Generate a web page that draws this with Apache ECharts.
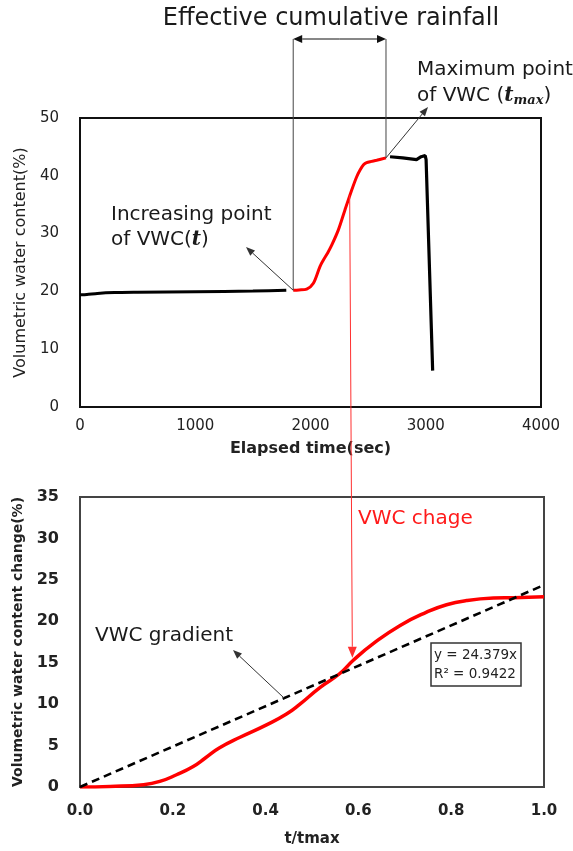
<!DOCTYPE html>
<html>
<head>
<meta charset="utf-8">
<script src="https://cdn.jsdelivr.net/npm/echarts@6/dist/echarts.min.js"></script>
<style>
  html, body { margin: 0; padding: 0; background: #fff; }
  #chart { width: 573px; height: 851px; }
</style>
</head>
<body>
<div id="chart"></div>
<script>
// ---- Upper panel: volumetric water content vs elapsed time ----
const timeBefore = [0, 60, 150, 300, 500, 1000, 1500, 1790];
const vwcBefore  = [19.4, 19.45, 19.65, 19.8, 19.85, 19.95, 20.05, 20.2];

const timeRise = [1850, 1900, 1967, 2025, 2082, 2111, 2150, 2184, 2241, 2299, 2357, 2400, 2430, 2460, 2487, 2530, 2574, 2655];
const vwcRise  = [20.2, 20.25, 20.4, 21.4, 24.3, 25.4, 26.7, 28.0, 30.6, 34.1, 37.5, 39.8, 41.0, 41.9, 42.3, 42.5, 42.7, 43.1];

const timeAfter = [2690, 2800, 2920, 2960, 2995, 3003, 3060];
const vwcAfter  = [43.3, 43.1, 42.8, 43.3, 43.5, 42.8, 6.3];

// ---- Lower panel: normalised VWC change vs t/tmax ----
const ratio     = [0, 0.065, 0.137, 0.172, 0.208, 0.244, 0.27, 0.3, 0.345, 0.402, 0.445, 0.474, 0.517, 0.56, 0.589, 0.632, 0.69, 0.747, 0.79, 0.833, 0.891, 0.934, 1.0];
const vwcChange = [0, 0.07, 0.28, 0.67, 1.48, 2.48, 3.5, 4.7, 6.0, 7.5, 8.8, 10.0, 12.0, 13.7, 15.3, 17.3, 19.5, 21.1, 22.0, 22.5, 22.8, 22.85, 22.95];

// linear fit through the origin
const gradientSlope = 24.379;
const rSquared = 0.9422;
const fitRatio = [0, 1];

// points the connecting arrow joins (upper curve -> lower curve)
const linkUpper = [2340, 36.6];
const linkLower = [0.587, 15.6];
const gradientAnchor = 0.44;

const chart = echarts.init(document.getElementById('chart'), null, { renderer: 'canvas' });

const topFont = 'DejaVu Sans';
const botFont = 'DejaVu Sans';

const option = {
  animation: false,
  backgroundColor: '#ffffff',
  grid: [
    { left: 80, top: 118, width: 461, height: 289, show: true, borderColor: '#111', borderWidth: 2, backgroundColor: 'transparent' },
    { left: 80, top: 497, width: 464, height: 290, show: true, borderColor: '#444', borderWidth: 2, backgroundColor: 'transparent' }
  ],
  xAxis: [
    {
      gridIndex: 0, type: 'value', min: 0, max: 4000, interval: 1000,
      name: 'Elapsed time(sec)', nameLocation: 'middle', nameGap: 34,
      nameTextStyle: { fontFamily: topFont, fontSize: 16, fontWeight: 'bold', color: '#222' },
      axisLine: { show: false }, axisTick: { show: false }, splitLine: { show: false },
      axisLabel: { margin: 12, fontFamily: topFont, fontSize: 15, color: '#222', formatter: v => String(v) }
    },
    {
      gridIndex: 1, type: 'value', min: 0, max: 1, interval: 0.2,
      name: 't/tmax', nameLocation: 'middle', nameGap: 45,
      nameTextStyle: { fontFamily: botFont, fontSize: 15, fontWeight: 'bold', color: '#222' },
      axisLine: { show: false }, axisTick: { show: false }, splitLine: { show: false },
      axisLabel: { margin: 17, fontFamily: botFont, fontSize: 15, fontWeight: 'bold', color: '#222',
        formatter: v => v.toFixed(1) }
    }
  ],
  yAxis: [
    {
      gridIndex: 0, type: 'value', min: 0, max: 50, interval: 10,
      name: 'Volumetric water content(%)', nameLocation: 'middle', nameGap: 48,
      nameTextStyle: { fontFamily: topFont, fontSize: 16, color: '#222' },
      axisLine: { show: false }, axisTick: { show: false }, splitLine: { show: false },
      axisLabel: { margin: 21, fontFamily: topFont, fontSize: 15, color: '#222' }
    },
    {
      gridIndex: 1, type: 'value', min: 0, max: 35, interval: 5,
      name: 'Volumetric water content change(%)', nameLocation: 'middle', nameGap: 47,
      nameTextStyle: { fontFamily: botFont, fontSize: 14, fontWeight: 'bold', color: '#222' },
      axisLine: { show: false }, axisTick: { show: false }, splitLine: { show: false },
      axisLabel: { margin: 21, fontFamily: botFont, fontSize: 16, fontWeight: 'bold', color: '#222' }
    }
  ],
  series: [
    {
      type: 'line', xAxisIndex: 0, yAxisIndex: 0, symbol: 'none', smooth: 0.2,
      lineStyle: { color: '#000', width: 3 },
      data: timeBefore.map((t, i) => [t, vwcBefore[i]])
    },
    {
      type: 'line', xAxisIndex: 0, yAxisIndex: 0, symbol: 'none', smooth: 0.3,
      lineStyle: { color: '#ff0000', width: 3 },
      data: timeRise.map((t, i) => [t, vwcRise[i]])
    },
    {
      type: 'line', xAxisIndex: 0, yAxisIndex: 0, symbol: 'none',
      lineStyle: { color: '#000', width: 3.2 },
      data: timeAfter.map((t, i) => [t, vwcAfter[i]])
    },
    {
      type: 'line', xAxisIndex: 1, yAxisIndex: 1, symbol: 'none',
      lineStyle: { color: '#000', width: 2.6, type: [8, 5] },
      data: fitRatio.map(r => [r, gradientSlope * r]), z: 3
    },
    {
      type: 'line', xAxisIndex: 1, yAxisIndex: 1, symbol: 'none', smooth: 0.5,
      lineStyle: { color: '#ff0000', width: 3.5 },
      data: ratio.map((r, i) => [r, vwcChange[i]]), z: 2
    }
  ]
};
chart.setOption(option);

// ---- annotations ----
const toPx = (gi, p) => chart.convertToPixel({ gridIndex: gi }, p);

function arrowHead(from, to, color, len, half) {
  const dx = to[0] - from[0], dy = to[1] - from[1];
  const L = Math.hypot(dx, dy);
  const ux = dx / L, uy = dy / L;
  const bx = to[0] - ux * len, by = to[1] - uy * len;
  const nx = -uy, ny = ux;
  return {
    base: [bx, by],
    el: {
      type: 'polygon', silent: true, z: 20,
      shape: { points: [to, [bx + nx * half, by + ny * half], [bx - nx * half, by - ny * half]] },
      style: { fill: color }
    }
  };
}
function arrow(from, to, color, width, len, half) {
  const h = arrowHead(from, to, color, len || 9, half || 3.5);
  return [
    { type: 'line', silent: true, z: 20, shape: { x1: from[0], y1: from[1], x2: h.base[0], y2: h.base[1] },
      style: { stroke: color, lineWidth: width || 1 } },
    h.el
  ];
}
function label(text, x, y, size, color, extra) {
  return {
    type: 'text', silent: true, z: 20,
    style: Object.assign({ text: text, x: x, y: y, fontFamily: topFont, fontSize: size, fill: color,
      align: 'left', verticalAlign: 'middle' }, extra || {})
  };
}

const riseStart = toPx(0, [timeRise[0], vwcRise[0]]);
const riseEnd = toPx(0, [timeRise[timeRise.length - 1], vwcRise[vwcRise.length - 1]]);
const spanY = 39;
const g = [];

// effective cumulative rainfall span
g.push(label('Effective cumulative rainfall', 331, 19, 24, '#1a1a1a', { align: 'center' }));
g.push({ type: 'line', silent: true, z: 20, shape: { x1: riseStart[0], y1: spanY, x2: riseStart[0], y2: riseStart[1] }, style: { stroke: '#444', lineWidth: 1 } });
g.push({ type: 'line', silent: true, z: 20, shape: { x1: riseEnd[0], y1: spanY, x2: riseEnd[0], y2: riseEnd[1] }, style: { stroke: '#444', lineWidth: 1 } });
const mid = [(riseStart[0] + riseEnd[0]) / 2, spanY];
g.push(...arrow(mid, [riseStart[0], spanY], '#111', 1.2, 9, 4));
g.push(...arrow(mid, [riseEnd[0], spanY], '#111', 1.2, 9, 4));

// maximum point
g.push(label('Maximum point', 417, 70, 20, '#1a1a1a'));
g.push(label('of VWC ({t|t}{s|max})', 417, 96, 20, '#1a1a1a', {
  rich: {
    t: { fontFamily: 'DejaVu Serif', fontStyle: 'italic', fontWeight: 'bold', fontSize: 20, fill: '#1a1a1a' },
    s: { fontFamily: 'DejaVu Serif', fontStyle: 'italic', fontWeight: 'bold', fontSize: 13, fill: '#1a1a1a', padding: [10, 0, 0, 0] }
  }
}));
g.push(...arrow(riseEnd, [428, 107], '#333', 1, 9, 3.5));

// increasing point
g.push(label('Increasing point', 111, 215, 20, '#1a1a1a'));
g.push(label('of VWC({t|t})', 111, 240, 20, '#1a1a1a', {
  rich: { t: { fontFamily: 'DejaVu Serif', fontStyle: 'italic', fontWeight: 'bold', fontSize: 20, fill: '#1a1a1a' } }
}));
g.push(...arrow(riseStart, [246, 247], '#333', 1, 9, 3.5));

// link between panels
const up = toPx(0, linkUpper);
const lo = toPx(1, linkLower);
g.push(...arrow(up, lo, '#ff3030', 1, 11, 4.5));
g.push(label('VWC chage', 358, 519, 20, '#ff1a1a'));

// gradient label
const gradTail = toPx(1, [gradientAnchor, gradientSlope * gradientAnchor]);
g.push(label('VWC gradient', 95, 636, 20, '#1a1a1a'));
g.push(...arrow(gradTail, [233, 650], '#333', 1, 9, 3.5));

// fit equation box
g.push({ type: 'rect', silent: true, z: 20, shape: { x: 431, y: 643, width: 90, height: 43 },
  style: { fill: '#fff', stroke: '#333', lineWidth: 1.5 } });
g.push(label('y = ' + gradientSlope + 'x', 434, 655, 13.5, '#222'));
g.push(label('R² = ' + rSquared, 434, 674, 13.5, '#222'));

chart.setOption({ graphic: g });
</script>
</body>
</html>
